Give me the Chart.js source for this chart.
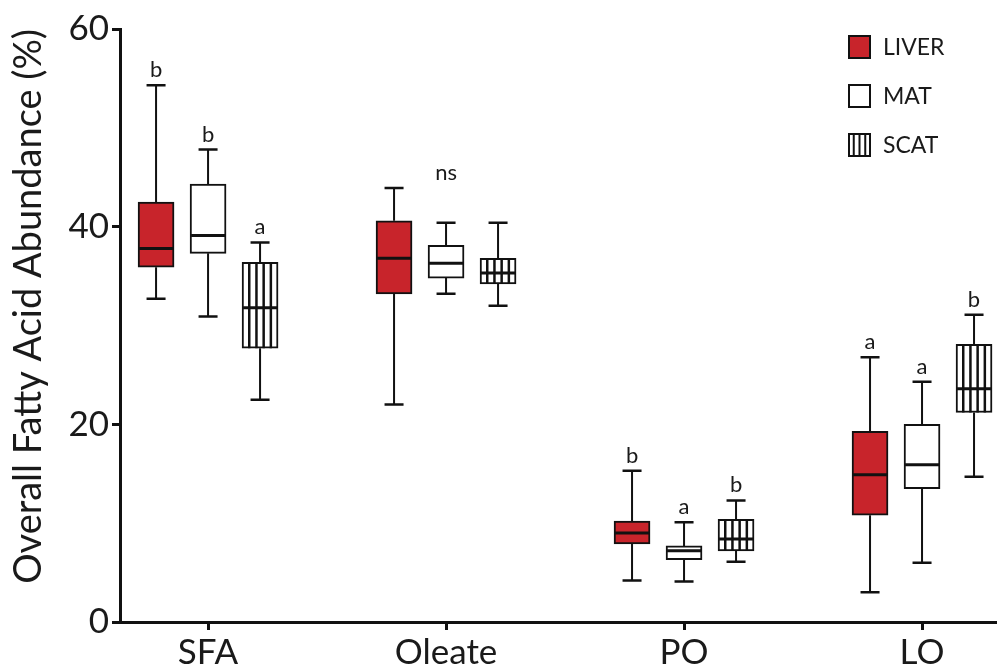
<!DOCTYPE html>
<html>
<head>
<meta charset="utf-8">
<script src="https://cdn.jsdelivr.net/npm/chart.js@4.4.1/dist/chart.umd.min.js"></script>
<style>
  body { margin: 0; background: #fff; }
</style>
</head>
<body>
<canvas id="myChart" width="997" height="671"></canvas>
<script>
// categories and tissues
var categories = ["SFA", "Oleate", "PO", "LO"];
var tissues = ["LIVER", "MAT", "SCAT"];

// [min, q1, median, q3, max] per category
var liverStats = [[32.7, 35.9, 37.8, 42.5, 54.3], [22.0, 33.2, 36.8, 40.6, 43.9], [4.2, 7.9, 9.0, 10.2, 15.3], [3.0, 10.8, 14.9, 19.3, 26.8]];
var matStats = [[30.9, 37.3, 39.1, 44.3, 47.8], [33.2, 34.8, 36.3, 38.1, 40.4], [4.1, 6.3, 7.2, 7.7, 10.1], [6.0, 13.5, 15.9, 20.0, 24.3]];
var scatStats = [[22.5, 27.7, 31.8, 36.4, 38.4], [32.0, 34.2, 35.3, 36.8, 40.4], [6.1, 7.2, 8.4, 10.4, 12.3], [14.7, 21.2, 23.6, 28.1, 31.1]];

// significance letters
var liverSig = ["b", "", "b", "a"];
var matSig = ["b", "ns", "a", "a"];
var scatSig = ["a", "", "b", "b"];

var yTicks = [0, 20, 40, 60];

var red = "#c8242b";
var fontName = "Lato";
var shift = 0.2185;

function makeSet(label, stats, sig, k, fill) {
  return {
    label: label,
    data: stats.map(function (s, i) { return { x: i + 1 + (k - 1) * shift, y: [s[1], s[3]] }; }),
    stats: stats,
    sig: sig,
    striped: k == 2,
    backgroundColor: fill,
    borderColor: "#111",
    borderWidth: 2,
    borderSkipped: false,
    barThickness: 36,
    grouped: false
  };
}

var boxPlugin = {
  id: "boxes",
  afterDatasetsDraw: function (chart) {
    var ctx = chart.ctx;
    var ys = chart.scales.y;
    ctx.save();
    ctx.strokeStyle = "#111";
    ctx.lineCap = "butt";
    chart.data.datasets.forEach(function (ds, di) {
      var meta = chart.getDatasetMeta(di);
      meta.data.forEach(function (bar, i) {
        var s = ds.stats[i];
        var x = bar.x, half = bar.width / 2;
        var top = bar.y, base = bar.base;
        // stripes
        if (ds.striped) {
          ctx.lineWidth = 2.5;
          for (var j = 1; j < 5; j++) {
            var sx = x - half + j * bar.width / 5;
            ctx.beginPath(); ctx.moveTo(sx, top); ctx.lineTo(sx, base); ctx.stroke();
          }
        }
        // median
        var my = ys.getPixelForValue(s[2]);
        ctx.lineWidth = 3;
        ctx.beginPath(); ctx.moveTo(x - half + 1, my); ctx.lineTo(x + half - 1, my); ctx.stroke();
        // whiskers
        var lo = ys.getPixelForValue(s[0]), hi = ys.getPixelForValue(s[4]);
        ctx.lineWidth = 2;
        ctx.beginPath();
        ctx.moveTo(x, top); ctx.lineTo(x, hi);
        ctx.moveTo(x, Math.max(top, base)); ctx.lineTo(x, lo);
        ctx.stroke();
        ctx.lineWidth = 2.5;
        ctx.beginPath();
        ctx.moveTo(x - 9.5, hi); ctx.lineTo(x + 9.5, hi);
        ctx.moveTo(x - 9.5, lo); ctx.lineTo(x + 9.5, lo);
        ctx.stroke();
        // letters
        var txt = ds.sig[i];
        if (txt) {
          var level = s[4];
          if (txt == "ns") {
            chart.data.datasets.forEach(function (d) { level = Math.max(level, d.stats[i][4]); });
          }
          ctx.fillStyle = "#1a1a1a";
          ctx.font = "22px " + fontName;
          ctx.textAlign = "center";
          ctx.textBaseline = "alphabetic";
          ctx.fillText(txt, x, ys.getPixelForValue(level) - 8);
        }
      });
    });
    ctx.restore();
  },
  afterDraw: function (chart) {
    var ctx = chart.ctx;
    ctx.save();
    chart.data.datasets.forEach(function (ds, di) {
      var lx = 848, ly = 35 + di * 49, w = 23, h = 24;
      ctx.fillStyle = ds.backgroundColor;
      ctx.fillRect(lx, ly, w, h);
      ctx.strokeStyle = "#111";
      ctx.lineWidth = 2;
      if (ds.striped) {
        for (var j = 1; j < 4; j++) {
          ctx.beginPath(); ctx.moveTo(lx + j * w / 4, ly); ctx.lineTo(lx + j * w / 4, ly + h); ctx.stroke();
        }
      }
      ctx.strokeRect(lx + 1, ly + 1, w - 2, h - 2);
      ctx.fillStyle = "#1a1a1a";
      ctx.font = "23px " + fontName;
      ctx.textAlign = "left";
      ctx.textBaseline = "middle";
      ctx.fillText(ds.label, 883, ly + h / 2 + 1);
    });
    ctx.restore();
  }
};

new Chart("myChart", {
  type: "bar",
  data: {
    datasets: [
      makeSet(tissues[0], liverStats, liverSig, 0, red),
      makeSet(tissues[1], matStats, matSig, 1, "#ffffff"),
      makeSet(tissues[2], scatStats, scatSig, 2, "#ffffff")
    ]
  },
  options: {
    responsive: false,
    animation: false,
    layout: { padding: { top: 29, right: 0, bottom: 0, left: 0 } },
    plugins: {
      legend: { display: false },
      tooltip: { enabled: false }
    },
    scales: {
      x: {
        type: "linear",
        min: 0.63,
        max: 4.315,
        offset: false,
        afterBuildTicks: function (scale) {
          scale.ticks = categories.map(function (c, i) { return { value: i + 1 }; });
        },
        afterFit: function (scale) { scale.height = 49; },
        border: { display: true, color: "#111", width: 3 },
        grid: { display: true, offset: false, drawOnChartArea: false, drawTicks: true, tickLength: 8, tickWidth: 3, tickColor: "#111" },
        ticks: {
          color: "#1a1a1a",
          font: { family: fontName, size: 35 },
          padding: 2,
          maxRotation: 0,
          callback: function (v) { return categories[Math.round(v) - 1]; }
        }
      },
      y: {
        min: 0,
        max: 60,
        afterBuildTicks: function (scale) {
          scale.ticks = yTicks.map(function (v) { return { value: v }; });
        },
        afterFit: function (scale) { scale.width = 120; },
        border: { display: true, color: "#111", width: 3 },
        grid: { display: true, drawOnChartArea: false, drawTicks: true, tickLength: 8, tickWidth: 3, tickColor: "#111" },
        ticks: {
          color: "#1a1a1a",
          font: { family: fontName, size: 35 },
          padding: 3
        },
        title: {
          display: true,
          align: "end",
          text: "Overall Fatty Acid Abundance (%)",
          color: "#1a1a1a",
          font: { family: fontName, size: 38 },
          padding: { top: 6, bottom: 0 }
        }
      }
    }
  },
  plugins: [boxPlugin]
});
</script>
</body>
</html>
